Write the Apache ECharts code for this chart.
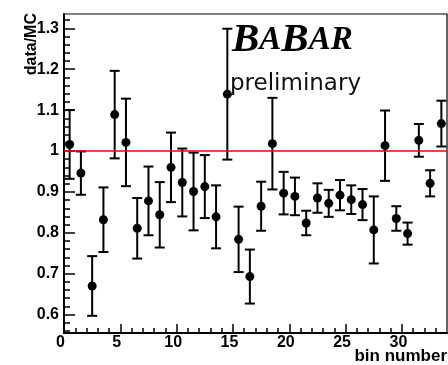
<!DOCTYPE html>
<html>
<head>
<meta charset="utf-8">
<script src="https://cdn.jsdelivr.net/npm/echarts@6/dist/echarts.min.js"></script>
<style>
  html, body { margin: 0; padding: 0; background: #fff; }
  #chart { width: 448px; height: 365px; }
</style>
</head>
<body>
<div id="chart"></div>
<script>
// Bin numbers (each bin is one unit wide, point drawn at its centre)
const bins = [0, 1, 2, 3, 4, 5, 6, 7, 8, 9, 10, 11, 12, 13, 14, 15, 16,
              17, 18, 19, 20, 21, 22, 23, 24, 25, 26, 27, 28, 29, 30, 31, 32, 33];

// data/MC ratio per bin
const ratio = [1.016, 0.946, 0.670, 0.832, 1.089, 1.021, 0.811, 0.878, 0.844, 0.960,
               0.923, 0.901, 0.913, 0.839, 1.139, 0.784, 0.693, 0.865, 1.018, 0.897,
               0.889, 0.824, 0.885, 0.872, 0.892, 0.881, 0.869, 0.807, 1.013, 0.835,
               0.798, 1.026, 0.921, 1.067];

// symmetric uncertainty on the ratio
const ratioErr = [0.084, 0.053, 0.073, 0.079, 0.107, 0.107, 0.074, 0.084, 0.080, 0.085,
                  0.083, 0.095, 0.077, 0.077, 0.160, 0.080, 0.066, 0.060, 0.112, 0.052,
                  0.046, 0.030, 0.036, 0.033, 0.037, 0.035, 0.038, 0.082, 0.086, 0.030,
                  0.027, 0.040, 0.032, 0.056];

// reference line: data equals MC
const unity = 1;

// axis tick labels
const xTickLabels = [0, 5, 10, 15, 20, 25, 30];
const yTickLabels = [0.6, 0.7, 0.8, 0.9, 1.0, 1.1, 1.2, 1.3];

const xRange = [0, 34];
const yRange = [0.555, 1.335];

// minor tick positions
const xMinor = [];
for (let v = 0; v <= 33; v++) xMinor.push(v);
const yMinor = [];
for (let k = 28; k <= 66; k++) yMinor.push(+(k * 0.02).toFixed(2));

const points = bins.map((b, i) => [b + 0.5, ratio[i]]);
const bars = bins.map((b, i) => [b + 0.5, ratio[i] - ratioErr[i], ratio[i] + ratioErr[i]]);

const labelFont = { fontFamily: 'Liberation Sans', fontWeight: 'bold', fontSize: 16, color: '#000' };

const chart = echarts.init(document.getElementById('chart'), null, { renderer: 'canvas' });

chart.setOption({
  animation: false,
  backgroundColor: '#fff',
  grid: {
    left: 64, right: 1, top: 14, bottom: 32,
    containLabel: false, outerBoundsMode: 'none',
    show: true, borderColor: '#000', borderWidth: 1.2, backgroundColor: 'transparent'
  },
  xAxis: [{
    type: 'value', min: xRange[0], max: xRange[1],
    axisLine: { show: true, onZero: false, lineStyle: { color: '#000', width: 2 } },
    axisTick: { show: true, inside: true, length: 9, customValues: xTickLabels,
                lineStyle: { color: '#000', width: 1.5 } },
    axisLabel: Object.assign({ show: true, margin: 2, customValues: xTickLabels,
                               padding: [0, 7, 0, 0], formatter: v => String(v) }, labelFont),
    splitLine: { show: false }
  }, {
    // minor ticks, one per bin
    type: 'value', min: xRange[0], max: xRange[1], position: 'bottom', offset: 0,
    axisLine: { show: false },
    axisTick: { show: true, inside: true, length: 5, customValues: xMinor,
                lineStyle: { color: '#000', width: 1.5 } },
    axisLabel: { show: false },
    splitLine: { show: false }
  }],
  yAxis: [{
    type: 'value', min: yRange[0], max: yRange[1],
    axisLine: { show: true, onZero: false, lineStyle: { color: '#000', width: 2 } },
    axisTick: { show: true, inside: true, length: 11, customValues: yTickLabels,
                lineStyle: { color: '#000', width: 1.5 } },
    axisLabel: Object.assign({ show: true, margin: 5, customValues: yTickLabels,
                               formatter: v => String(+(+v).toFixed(1)) }, labelFont),
    splitLine: { show: false }
  }, {
    // minor ticks every 0.02
    type: 'value', min: yRange[0], max: yRange[1], position: 'left', offset: 0,
    axisLine: { show: false },
    axisTick: { show: true, inside: true, length: 6, customValues: yMinor,
                lineStyle: { color: '#000', width: 1.5 } },
    axisLabel: { show: false },
    splitLine: { show: false }
  }],
  graphic: [
    {
      type: 'text', x: 232, y: 40,
      style: {
        text: '{b|B}{s|A}{b|B}{s|A}{s|R}',
        verticalAlign: 'middle',
        rich: {
          b: { fontFamily: 'Liberation Serif', fontStyle: 'italic', fontWeight: 'bold', fontSize: 41, fill: '#000' },
          s: { fontFamily: 'Liberation Serif', fontStyle: 'italic', fontWeight: 'bold', fontSize: 33, fill: '#000' }
        }
      }
    },
    {
      type: 'text', x: 230, y: 84,
      style: { text: 'preliminary', fontFamily: 'DejaVu Sans', fontSize: 23, fill: '#111',
               verticalAlign: 'middle', align: 'left' }
    },
    {
      type: 'text', x: 447, y: 356,
      style: { text: 'bin number', fontFamily: 'Liberation Sans', fontWeight: 'bold', fontSize: 17,
               fill: '#000', align: 'right', verticalAlign: 'middle' }
    },
    {
      type: 'text', x: 32, y: 13, rotation: Math.PI / 2,
      style: { text: 'data/MC', fontFamily: 'Liberation Sans', fontWeight: 'bold', fontSize: 16,
               fill: '#000', align: 'right', verticalAlign: 'middle' }
    }
  ],
  series: [
    {
      type: 'custom',
      name: 'errors',
      z: 3,
      data: bars,
      renderItem: function (params, api) {
        const x = api.value(0);
        const lo = api.coord([x, api.value(1)]);
        const hi = api.coord([x, api.value(2)]);
        const cap = 5;
        const style = { stroke: '#000', lineWidth: 2 };
        return {
          type: 'group',
          children: [
            { type: 'line', shape: { x1: lo[0], y1: lo[1], x2: hi[0], y2: hi[1] }, style: style },
            { type: 'line', shape: { x1: lo[0] - cap, y1: lo[1], x2: lo[0] + cap, y2: lo[1] }, style: style },
            { type: 'line', shape: { x1: hi[0] - cap, y1: hi[1], x2: hi[0] + cap, y2: hi[1] }, style: style }
          ]
        };
      }
    },
    {
      type: 'scatter',
      name: 'data/MC',
      z: 5,
      symbol: 'circle',
      symbolSize: 9,
      itemStyle: { color: '#000', opacity: 1 },
      data: points,
      markLine: {
        silent: true,
        symbol: ['none', 'none'],
        label: { show: false },
        lineStyle: { color: '#ff0000', width: 1.5, type: 'solid' },
        data: [{ yAxis: unity }]
      }
    }
  ]
});
</script>
</body>
</html>
